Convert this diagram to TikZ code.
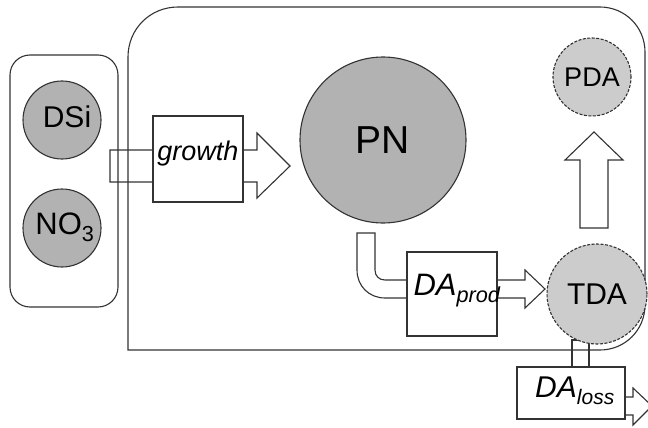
\documentclass[tikz,border=0pt]{standalone}
\usepackage{fontspec}
\setmainfont{Liberation Sans}
\newcommand{\bigtxt}[1]{\fontsize{#1}{#1}\selectfont}
\begin{document}
\begin{tikzpicture}[x=1pt,y=-1pt,line width=1.1pt,draw=black!80,
  pool/.style={circle,draw,fill=gray!60,inner sep=0pt},
  dapool/.style={circle,draw,dash pattern=on 3pt off 1.5pt,fill=gray!40,inner sep=0pt},
  proc/.style={draw,fill=white,inner sep=0pt},
  flow/.style={draw,fill=white,line join=miter}]

\useasboundingbox (0,0) rectangle (648,428);

% flows, drawn first
\draw[flow] (110,150) -- (257,150) -- (257,133) -- (290,166) -- (257,198) -- (257,182) -- (110,182) -- cycle;
\draw[flow] (357,233) -- (375,233) -- (375,270) .. controls (375,276) and (379,280) .. (385,280)
  -- (525,280) -- (525,270) -- (545,289) -- (525,308) -- (525,298) -- (385,298)
  .. controls (369,298) and (357,286) .. (357,270) -- cycle;
\draw[flow] (580,228) -- (580,160) -- (565,160) -- (594,132) -- (623,160) -- (608,160) -- (608,228) -- cycle;
\draw[flow] (572,340) rectangle (589,367);
\draw[flow] (620,397) -- (633,397) -- (633,388) -- (652,406) -- (633,425) -- (633,415) -- (620,415) -- cycle;

% containers
\draw[rounded corners=20pt] (10,55) rectangle (118,307);
\draw (128,350) -- (128,57) .. controls (128,29) and (150,7) .. (178,7) -- (600,7)
  .. controls (625,7) and (645,27) .. (645,52) -- (645,305)
  .. controls (645,330) and (625,350) .. (600,350) -- cycle;

% pools
\node[pool,minimum size=78pt] (dsi) at (62,120) {};
\node at (67,117) {\bigtxt{30}DSi};
\node[pool,minimum size=78pt] (no3) at (62,228) {};
\node at (65,227) {\bigtxt{31}NO\textsubscript{3}};
\node[pool,minimum size=166pt] (pn) at (383,140) {\bigtxt{39}PN};
\node[dapool,minimum size=100pt] (tda) at (597,294) {\bigtxt{30}TDA};
\node[dapool,minimum size=78pt] (pda) at (592,77) {\bigtxt{27}PDA};

% processes
\node[proc,minimum width=90pt,minimum height=86pt] (growth) at (198,159) {};
\node at (198,154) {\bigtxt{27}\itshape growth};
\node[proc,minimum width=90pt,minimum height=84pt] (daprod) at (452,294) {};
\node at (457,291) {\bigtxt{31}\itshape DA\textsubscript{prod}};
\node[proc,minimum width=108pt,minimum height=52pt] (daloss) at (571,393) {};
\node at (575,391) {\bigtxt{30}\itshape DA\textsubscript{loss}};
\end{tikzpicture}
\end{document}
